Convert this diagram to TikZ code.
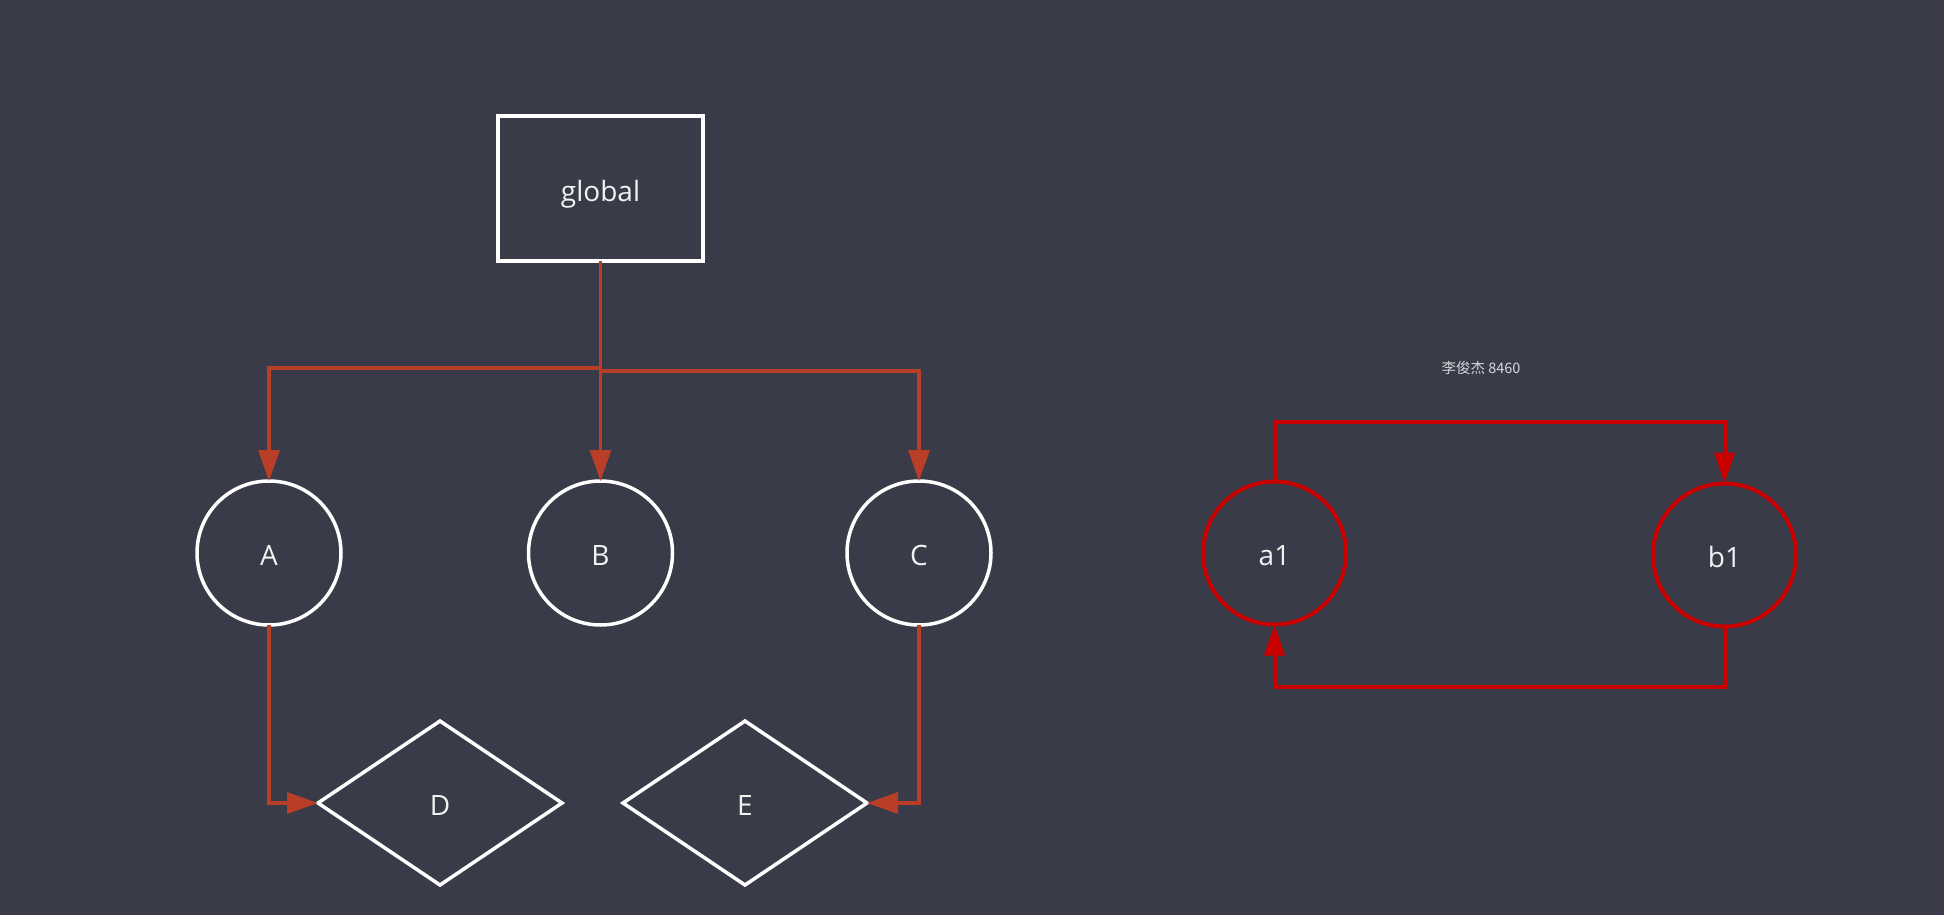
\documentclass[tikz,border=0pt]{standalone}
\usepackage{fontspec}
\setmainfont{Open Sans}
\newfontfamily\cjkfont{Noto Sans CJK SC}
\usetikzlibrary{shapes.geometric,arrows.meta}
\definecolor{bgcol}{RGB}{58,59,72}
\definecolor{linkcol}{RGB}{184,62,40}
\definecolor{loopcol}{RGB}{200,0,0}
\definecolor{txtcol}{RGB}{242,242,242}
\definecolor{markcol}{RGB}{215,215,218}
\begin{document}
\begin{tikzpicture}[x=1pt,y=-1pt,
  every node/.style={outer sep=0pt, inner sep=0pt, text=txtcol,
    font=\fontsize{28}{32}\selectfont, text height=26pt, text depth=1pt},
  boxnode/.style={draw=white, line width=4pt, minimum width=205pt, minimum height=144pt},
  roundnode/.style={circle, draw=white, line width=3.5pt, minimum size=144pt},
  loopnode/.style={circle, draw=loopcol, line width=4pt, minimum size=143pt},
  gemnode/.style={diamond, draw=white, line width=3.5pt, minimum width=244pt, minimum height=164pt},
  link/.style={draw=linkcol, line width=3.2pt, -{Triangle[length=31pt,width=21pt]}},
  looplink/.style={draw=loopcol, line width=4pt, -{Triangle[length=31pt,width=20pt]}},
]
% canvas
\fill[bgcol] (0,0) rectangle (1944,915);

% tree on the left
\node[boxnode] (g) at (600.5,188.5) {global};
\node[roundnode] (A) at (269,553) {A};
\node[roundnode] (B) at (600.5,553) {B};
\node[roundnode] (C) at (919,553) {C};
\node[gemnode] (D) at (440,803) {D};
\node[gemnode] (E) at (745,803) {E};

\coordinate (lbar) at (0,368);
\coordinate (rbar) at (0,371);

\draw[link] (g.south) -- (g.south |- lbar) -| (A.north);
\draw[link] (g.south) -- (B.north);
\draw[link] (g.south) -- (g.south |- rbar) -| (C.north);
\draw[link] (A.south) |- (D.west);
\draw[link] (C.south) |- (E.east);

% label
\node[font=\cjkfont\fontsize{14.5}{17}\selectfont, text=markcol, text height=, text depth=] (mark) at (1481,368) {李俊杰 8460};

% loop on the right
\node[loopnode] (a1) at (1274.5,553) {a1};
\node[loopnode] (b1) at (1724.5,555) {b1};

\coordinate (ltop) at (1500,421.5);
\coordinate (lbot) at (1500,687);

\draw[looplink] (a1.north) |- (ltop) -| (b1.north);
\draw[looplink] (b1.south) |- (lbot) -| (a1.south);
\end{tikzpicture}
\end{document}
